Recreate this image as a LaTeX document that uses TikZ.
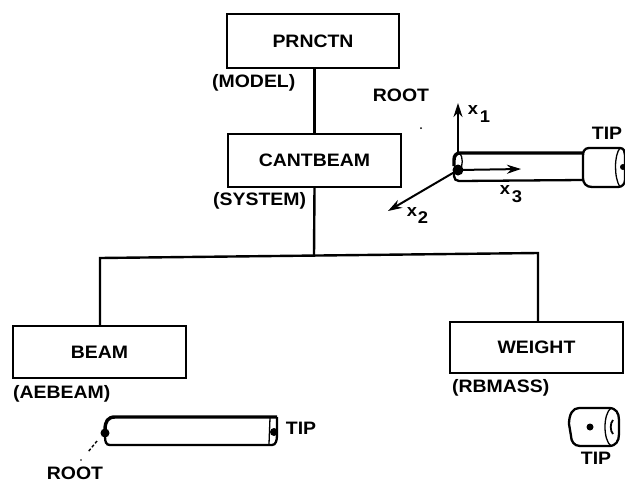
\documentclass[tikz,border=0pt]{standalone}
\usepackage{fontspec}
\setmainfont[FakeStretch=1.08]{Liberation Sans}
\usetikzlibrary{arrows.meta}
\tikzset{
 blk/.style={draw,line width=2.3pt,minimum width=#1,inner sep=0pt,font=\bfseries\fontsize{18}{18}\selectfont},
 lab/.style={inner sep=0pt,font=\bfseries\fontsize{18}{18}\selectfont},
 sym/.style={inner sep=0pt,font=\bfseries\fontsize{17}{17}\selectfont},
 link/.style={line width=2.4pt},
 ax/.style={line width=2pt,-{Stealth[length=14pt,width=9pt]}},
 thick1/.style={line width=2.3pt},
 thin1/.style={line width=1.3pt}
}
\begin{document}
\begin{tikzpicture}[x=1pt,y=-1pt]
\useasboundingbox (0,0) rectangle (625,483);
\node[blk=172pt,minimum height=54pt] (prn) at (313,41) {PRNCTN};
\node[blk=173pt,minimum height=53pt] (can) at (314.5,160.5) {CANTBEAM};
\node[blk=173pt,minimum height=52pt] (bm) at (99.5,352) {BEAM};
\node[blk=173pt,minimum height=51pt] (wt) at (536.5,347.5) {WEIGHT};
\node[lab,anchor=west] (l1) at (212,83) {(MODEL)};
\node[lab,anchor=west] (l2) at (213,201) {(SYSTEM)};
\node[lab,anchor=west] (l3) at (13,394) {(AEBEAM)};
\node[lab,anchor=west] (l4) at (452,388) {(RBMASS)};
\node[lab] (r1) at (401,95) {ROOT};
\node[lab] (t1) at (607,133) {TIP};
\node[lab] (t2) at (301,428) {TIP};
\node[lab] (r2) at (75,473) {ROOT};
\node[lab] (t3) at (596,458) {TIP};
\coordinate (j) at (314,256);
\coordinate (jl) at (100,258);
\coordinate (jr) at (538,253);
\draw[link] (prn.south -| can.north) -- (can.north);
\draw[link] (can.south) -- (j);
\draw[link] (bm.north -| jl) -- (jl) -- (jr) -- (wt.north -| jr);
% upper beam
\coordinate (o) at (458,170);
\coordinate (e1) at (458,103);
\coordinate (e2) at (388,211);
\coordinate (e3) at (521,169);
\draw[line width=3.4pt] (583,153) -- (460,153) .. controls (456,153) and (454,156) .. (454,160) -- (454,166);
\draw[thick1] (454,172) -- (454,176) .. controls (454,179) and (456,181) .. (459,181) -- (583,180);
\draw[thin1] (460,153) .. controls (463,158) and (463,165) .. (460,170);
\draw[thick1] (589,148) -- (620,148) .. controls (624,148) and (625,152) .. (625,155) -- (625,180) .. controls (625,184) and (622,187) .. (618,187) -- (592,187) .. controls (586,187) and (583,183) .. (583,178) -- (583,156) .. controls (583,152) and (584,148) .. (589,148);
\draw[thin1] (620,148) .. controls (614,155) and (614,178) .. (620,187);
\fill (623,167) circle (3pt);
\fill (o) circle (5.5pt);
\draw[line width=1.6pt] (458,153) -- (458,120);
\draw[ax] (458,122) -- (e1);
\draw[ax] (o) -- (e3);
\draw[ax] (o) -- (e2);
\node[sym] (x1) at (473,110) {x};
\node[sym] (x1s) at (485,117) {1};
\node[sym] (x3) at (505,190) {x};
\node[sym] (x3s) at (517,197) {3};
\node[sym] (x2) at (412,212) {x};
\node[sym] (x2s) at (423,218) {2};
\fill (421,128) circle (1pt);
% lower beam
\draw[line width=3.4pt] (277,417) -- (115,417) .. controls (108,417) and (105,421) .. (105,430);
\draw[thick1] (105,436) .. controls (105,442) and (106,445) .. (110,445) -- (272,445) .. controls (276,445) and (277,440) .. (277,435) -- (277,417);
\draw[thin1] (270,418) -- (269,444);
\fill (105,433) circle (4.5pt);
\fill (274,432) circle (4pt);
\draw[line width=1.4pt,densely dashed] (97,441) -- (88,452);
\fill (81,460) circle (0.8pt);
% tip mass
\draw[line width=2.3pt] (579,408) -- (609,408) .. controls (616,408) and (619,413) .. (619,420) -- (619,434) .. controls (619,441) and (616,446) .. (609,446) -- (580,446) .. controls (574,446) and (571,441) .. (571,436) -- (569,424) .. controls (569,414) and (573,408) .. (579,408);
\draw[thin1] (611,408) .. controls (603,414) and (603,440) .. (611,446);
\fill (590,427) circle (3.5pt);
\draw[line width=1.8pt] (613,420) .. controls (610,423) and (610,431) .. (613,434);
\end{tikzpicture}
\end{document}
